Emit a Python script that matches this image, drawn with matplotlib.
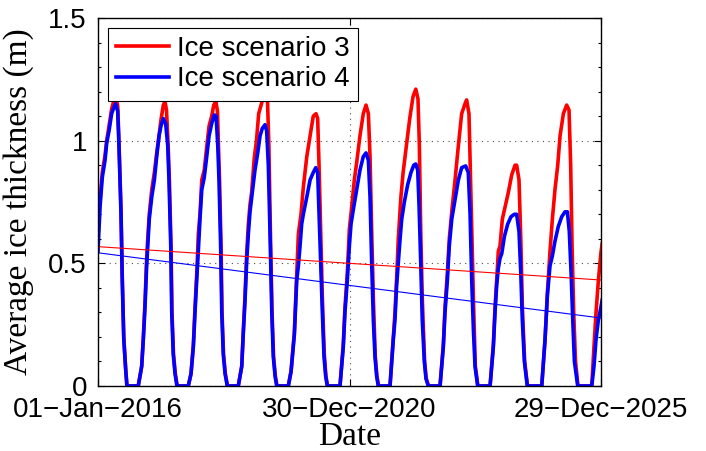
"""Average ice thickness, scenario 3 vs 4, with linear trends (MATLAB-style figure)."""

import numpy as np
import matplotlib

matplotlib.use("Agg")
import matplotlib.pyplot as plt  # noqa: E402

# days since 01-Jan-2016 and thickness (m)
red_days = [
    0, 15, 31, 51, 63, 80, 99, 118, 128, 143, 152, 167, 176, 187, 201, 210, 292,
    317, 329, 341, 353, 361, 372, 390, 409, 426, 443, 457, 474, 486, 497, 509, 518, 530, 537, 548, 561, 575, 655,
    675, 692, 704, 716, 728, 740, 753, 771, 789, 806, 825, 840, 855, 867, 874, 882, 893, 900, 911, 924, 940, 1018,
    1043, 1054, 1067, 1079, 1091, 1103, 1115, 1134, 1150, 1166, 1186, 1212, 1230, 1240, 1251, 1263, 1274, 1287, 1299, 1381,
    1401, 1425, 1442, 1454, 1473, 1490, 1515, 1539, 1562, 1582, 1594, 1604, 1616, 1628, 1642, 1654, 1666, 1756,
    1780, 1792, 1809, 1824, 1841, 1860, 1877, 1901, 1925, 1945, 1962, 1974, 1986, 1998, 2012, 2024, 2036, 2119,
    2143, 2155, 2167, 2179, 2198, 2214, 2238, 2262, 2286, 2306, 2322, 2332, 2342, 2353, 2370, 2382, 2399, 2482,
    2506, 2518, 2535, 2549, 2567, 2591, 2615, 2639, 2663, 2675, 2692, 2701, 2712, 2724, 2738, 2757, 2845,
    2869, 2881, 2893, 2905, 2917, 2934, 2954, 2978, 3002, 3026, 3038, 3055, 3068, 3079, 3096, 3117, 3220,
    3244, 3261, 3280, 3297, 3316, 3336, 3353, 3377, 3401, 3418, 3430, 3440, 3452, 3465, 3483, 3583,
    3599, 3614, 3631, 3649, 3658,
]
red_vals = [
    0.72, 0.76, 0.87, 0.94, 1.00, 1.06, 1.13, 1.17, 1.19, 1.14, 1.00, 0.72, 0.45, 0.20, 0.07, 0, 0,
    0.08, 0.20, 0.34, 0.52, 0.60, 0.70, 0.80, 0.87, 0.95, 1.02, 1.085, 1.145, 1.16, 1.125, 0.98, 0.84, 0.57, 0.30, 0.13, 0.05, 0, 0,
    0.05, 0.17, 0.32, 0.45, 0.62, 0.70, 0.84, 0.88, 0.975, 1.06, 1.10, 1.145, 1.16, 1.12, 0.98, 0.84, 0.57, 0.30, 0.13, 0.05, 0, 0,
    0.08, 0.22, 0.37, 0.54, 0.66, 0.74, 0.79, 0.93, 1.00, 1.11, 1.15, 1.20, 1.16, 0.98, 0.63, 0.30, 0.12, 0.04, 0, 0,
    0.06, 0.22, 0.45, 0.62, 0.70, 0.81, 0.935, 1.02, 1.10, 1.11, 1.09, 0.90, 0.63, 0.36, 0.13, 0.04, 0, 0,
    0.17, 0.32, 0.46, 0.64, 0.73, 0.84, 0.91, 1.02, 1.11, 1.145, 1.11, 0.935, 0.63, 0.36, 0.12, 0.04, 0, 0,
    0.20, 0.30, 0.44, 0.60, 0.77, 0.87, 0.98, 1.09, 1.18, 1.21, 1.17, 0.98, 0.63, 0.36, 0.10, 0.03, 0, 0,
    0.17, 0.32, 0.46, 0.60, 0.71, 0.84, 0.98, 1.11, 1.15, 1.166, 1.11, 0.90, 0.63, 0.36, 0.08, 0, 0,
    0.17, 0.32, 0.43, 0.55, 0.57, 0.68, 0.73, 0.79, 0.86, 0.90, 0.90, 0.84, 0.60, 0.33, 0.10, 0, 0,
    0.19, 0.38, 0.55, 0.68, 0.80, 0.90, 1.02, 1.11, 1.145, 1.125, 0.90, 0.57, 0.30, 0.10, 0, 0,
    0.16, 0.30, 0.43, 0.54, 0.58,
]
blue_days = [
    0, 15, 31, 51, 63, 80, 99, 118, 128, 143, 152, 167, 176, 187, 201, 210, 292,
    317, 329, 341, 353, 361, 372, 390, 409, 426, 443, 457, 474, 491, 506, 515, 528, 535, 546, 559, 573, 655,
    675, 692, 704, 716, 728, 740, 753, 771, 789, 806, 825, 844, 857, 869, 878, 890, 898, 909, 922, 938, 1018,
    1043, 1054, 1067, 1079, 1091, 1103, 1120, 1139, 1159, 1176, 1192, 1212, 1224, 1236, 1248, 1261, 1272, 1285, 1297, 1381,
    1401, 1425, 1442, 1454, 1466, 1478, 1490, 1515, 1539, 1562, 1580, 1594, 1604, 1616, 1628, 1640, 1652, 1664, 1756,
    1780, 1792, 1809, 1824, 1836, 1853, 1877, 1901, 1925, 1945, 1962, 1974, 1986, 1998, 2010, 2022, 2034, 2119,
    2143, 2155, 2167, 2179, 2192, 2204, 2223, 2247, 2271, 2291, 2306, 2320, 2330, 2342, 2353, 2368, 2380, 2397, 2482,
    2506, 2518, 2535, 2549, 2567, 2591, 2615, 2639, 2668, 2687, 2700, 2712, 2724, 2736, 2755, 2845,
    2869, 2881, 2893, 2905, 2917, 2930, 2949, 2973, 2997, 3021, 3038, 3055, 3068, 3079, 3094, 3115, 3220,
    3244, 3261, 3280, 3297, 3316, 3340, 3365, 3389, 3406, 3420, 3433, 3445, 3457, 3481, 3583,
    3599, 3614, 3631, 3649, 3658,
]
blue_vals = [
    0.55, 0.73, 0.85, 0.92, 0.99, 1.04, 1.11, 1.14, 1.15, 1.12, 0.98, 0.70, 0.43, 0.19, 0.065, 0, 0,
    0.08, 0.19, 0.32, 0.49, 0.57, 0.68, 0.77, 0.84, 0.935, 1.02, 1.06, 1.09, 1.07, 0.98, 0.84, 0.57, 0.30, 0.13, 0.05, 0, 0,
    0.05, 0.16, 0.30, 0.43, 0.55, 0.68, 0.80, 0.85, 0.935, 1.02, 1.07, 1.105, 1.10, 0.98, 0.84, 0.57, 0.30, 0.13, 0.05, 0, 0,
    0.08, 0.21, 0.35, 0.51, 0.62, 0.71, 0.79, 0.88, 0.95, 1.02, 1.05, 1.065, 1.04, 0.90, 0.63, 0.30, 0.12, 0.04, 0, 0,
    0.06, 0.21, 0.43, 0.49, 0.57, 0.66, 0.70, 0.77, 0.84, 0.87, 0.89, 0.87, 0.70, 0.50, 0.30, 0.12, 0.04, 0, 0,
    0.16, 0.30, 0.43, 0.57, 0.66, 0.72, 0.80, 0.88, 0.935, 0.95, 0.92, 0.77, 0.50, 0.27, 0.12, 0.04, 0, 0,
    0.19, 0.27, 0.41, 0.50, 0.60, 0.68, 0.75, 0.82, 0.87, 0.90, 0.905, 0.88, 0.73, 0.50, 0.27, 0.10, 0.03, 0, 0,
    0.16, 0.30, 0.43, 0.57, 0.68, 0.76, 0.84, 0.89, 0.897, 0.87, 0.70, 0.43, 0.23, 0.08, 0, 0,
    0.16, 0.30, 0.41, 0.48, 0.52, 0.54, 0.61, 0.66, 0.69, 0.70, 0.70, 0.63, 0.46, 0.27, 0.10, 0, 0,
    0.19, 0.37, 0.49, 0.53, 0.59, 0.65, 0.69, 0.71, 0.71, 0.63, 0.46, 0.27, 0.10, 0, 0,
    0.08, 0.19, 0.27, 0.32, 0.35,
]

# linear trend end points (start, end)
trend_days = [0, 3650]
red_trend = [0.568, 0.432]
blue_trend = [0.543, 0.277]

tick_days = [0, 1825, 3650]
tick_labels = ["01\u2212Jan\u22122016", "30\u2212Dec\u22122020", "29\u2212Dec\u22122025"]
series_names = ["Ice scenario 3", "Ice scenario 4"]

START = np.datetime64("2016-01-01")


def to_dates(days):
    return START + np.array(days, dtype="timedelta64[D]")


fig = plt.figure(figsize=(7.06, 4.51), dpi=100)
ax = fig.add_axes([98 / 706, 65 / 451, 503 / 706, 368 / 451])

ax.plot(to_dates(red_days), red_vals, color="#ff0000", lw=2.6, label=series_names[0])
ax.plot(to_dates(blue_days), blue_vals, color="#0000ff", lw=2.6, label=series_names[1])
ax.plot(to_dates(trend_days), red_trend, color="#ff0000", lw=0.8)
ax.plot(to_dates(trend_days), blue_trend, color="#0000ff", lw=0.8)

ax.set_xlim(to_dates(trend_days))
ax.set_ylim(0, 1.5)
ax.set_xticks(to_dates(tick_days))
ax.set_xticklabels(tick_labels)
ax.set_yticks([0, 0.5, 1, 1.5])
ax.set_yticklabels(["0", "0.5", "1", "1.5"])
ax.set_yticks(np.arange(0, 1.51, 0.1), minor=True)

for lab in ax.get_xticklabels() + ax.get_yticklabels():
    lab.set_fontfamily("Liberation Sans")
    lab.set_fontsize(20)
ax.tick_params(which="both", direction="in", top=True, right=True, width=0.8, pad=8, colors="black")
ax.tick_params(which="major", length=5)
ax.tick_params(which="minor", length=2.5)
ax.tick_params(axis="x", which="minor", bottom=False, top=False)

ax.grid(True, which="major", color="0.3", linestyle=(0, (1, 4)), lw=0.8)
for sp in ax.spines.values():
    sp.set_linewidth(1.0)

ax.set_xlabel("Date", family="Liberation Serif", fontsize=24, labelpad=-1)
ax.set_ylabel("Average ice thickness (m)", family="Liberation Serif", fontsize=24, labelpad=10)

leg = ax.legend(loc="upper left", prop={"family": "Liberation Sans", "size": 20},
                frameon=True, fancybox=False, framealpha=1, edgecolor="black",
                handlelength=1.9, handletextpad=0.3, labelspacing=0.15,
                borderpad=0.3, borderaxespad=0.35)
leg.get_frame().set_linewidth(0.8)

fig.savefig("out.png", dpi=100)
